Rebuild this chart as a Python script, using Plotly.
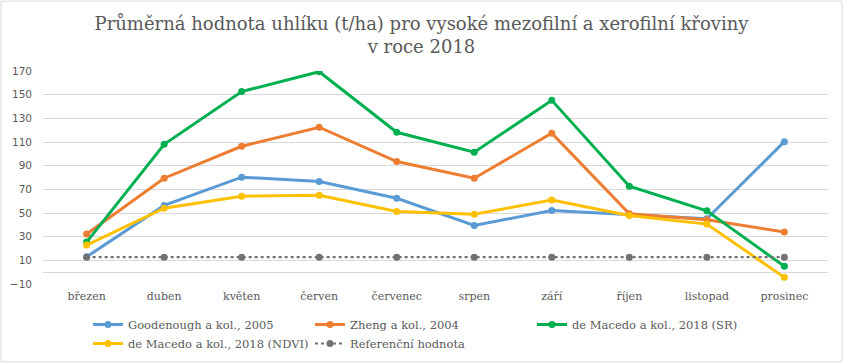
import plotly.graph_objects as go

months = ["březen", "duben", "květen", "červen", "červenec", "srpen", "září", "říjen", "listopad", "prosinec"]
goodenough = [13, 56.4, 80.3, 76.6, 62.5, 39.5, 52.1, 48.5, 45.1, 110.3]
zheng = [32.2, 79.4, 106.4, 122.5, 93.5, 79.4, 117.4, 49.3, 44.3, 33.9]
macedo_sr = [25.4, 108.1, 152.6, 169.4, 118.2, 101.4, 145.2, 72.7, 51.9, 4.9]
macedo_ndvi = [22.9, 54.1, 64.2, 65.0, 51.3, 49.0, 60.9, 47.9, 40.6, -4.4]
reference = [12.7] * 10
ytick_vals = [-10, 10, 30, 50, 70, 90, 110, 130, 150, 170]

series = [
    ("Goodenough a kol., 2005", goodenough, "#5B9BD5", "solid"),
    ("Zheng a kol., 2004", zheng, "#ED7D31", "solid"),
    ("de Macedo a kol., 2018 (SR)", macedo_sr, "#00B050", "solid"),
    ("de Macedo a kol., 2018 (NDVI)", macedo_ndvi, "#FFC000", "solid"),
    ("Referenční hodnota", reference, "#767171", "dot"),
]

fig = go.Figure()
for name, vals, color, dash in series:
    fig.add_trace(go.Scatter(
        x=months, y=vals, name=name, mode="lines+markers",
        line=dict(color=color, width=3 if dash == "solid" else 2.2, dash=dash),
        marker=dict(color=color, size=7, symbol="circle"),
    ))

fig.update_layout(
    width=843, height=363,
    margin=dict(l=43, r=15, t=71, b=79, autoexpand=False),
    paper_bgcolor="white", plot_bgcolor="white",
    title=dict(
        text="Průměrná hodnota uhlíku (t/ha) pro vysoké mezofilní a xerofilní křoviny<br>v roce 2018",
        x=0.5, xanchor="center", xref="container",
        y=1 - 30 / 363, yanchor="middle", yref="container",
        font=dict(family="DejaVu Serif", size=18, color="#595959"),
    ),
    showlegend=True,
    legend=dict(
        orientation="h", xref="container", yref="container",
        x=88 / 843, xanchor="left", y=1 - 310 / 363, yanchor="top",
        entrywidth=177, entrywidthmode="pixels",
        font=dict(family="DejaVu Serif", size=11.5, color="#595959"),
        itemwidth=30, bgcolor="rgba(0,0,0,0)",
    ),
    xaxis=dict(
        showgrid=False, showline=False, ticks="", automargin=False,
        tickfont=dict(family="DejaVu Serif", size=11, color="#595959"),
        ticklabelstandoff=4,
    ),
    yaxis=dict(
        range=[-10, 170], tickvals=ytick_vals, automargin=False,
        showgrid=True, gridcolor="#D9D9D9", gridwidth=1,
        zeroline=True, zerolinecolor="#D9D9D9", zerolinewidth=1,
        showline=False, ticks="",
        tickfont=dict(family="DejaVu Sans", size=10.5, color="#595959"),
        ticklabelstandoff=10,
    ),
    shapes=[dict(type="rect", xref="paper", yref="paper",
                 x0=-42 / 785, x1=1 + 14 / 785, y0=-78 / 213.3, y1=1 + 70 / 213.3,
                 line=dict(color="#D9D9D9", width=1), layer="below")],
)

fig.write_html("out.html", config={"displayModeBar": False},
               post_script="document.body.style.margin='0';document.body.style.overflow='hidden';")
